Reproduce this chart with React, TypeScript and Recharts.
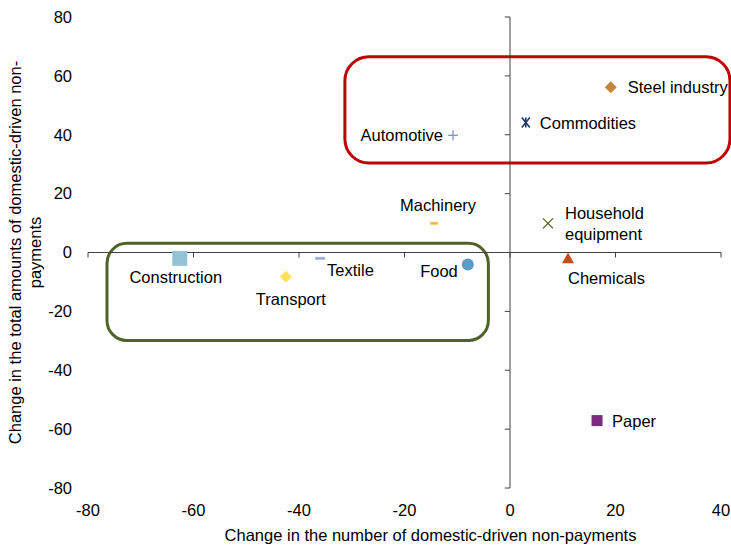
import {
  ScatterChart,
  Scatter,
  XAxis,
  YAxis,
  ReferenceLine,
  ReferenceArea,
  Label,
} from 'recharts'

const sectors = [
  'Steel industry',
  'Commodities',
  'Automotive',
  'Machinery',
  'Household equipment',
  'Chemicals',
  'Paper',
  'Construction',
  'Transport',
  'Textile',
  'Food',
]
// change in the number of domestic-driven non-payments
const numberChange = [19.1, 3.0, -10.8, -14.4, 7.2, 11.0, 16.5, -62.6, -42.5, -36.0, -8.0]
// change in the total amounts of domestic-driven non-payments
const amountChange = [56.1, 44.2, 39.8, 9.9, 9.9, -2.0, -57.1, -2.0, -8.2, -2.0, -4.1]

const xTicks = [-80, -60, -40, -20, 0, 20, 40]
const yTicks = [-80, -60, -40, -20, 0, 20, 40, 60, 80]

// highlighted groups (data coords of the rounded boxes)
const upperBox = { x1: -31.3, x2: 41.7, y1: 30.4, y2: 66.5 }
const lowerBox = { x1: -76.4, x2: -4.1, y1: -29.9, y2: 3.1 }

const FONT = '"Liberation Sans", Arial, sans-serif'
const AXIS = '#404040'

type Marker = 'diamond' | 'asterisk' | 'plus' | 'dash' | 'cross' | 'triangle' | 'square' | 'circle'
interface PointStyle {
  color: string
  marker: Marker
  size: number
  dx: number
  dy: number
  anchor: 'start' | 'middle' | 'end'
  wrap?: boolean
}

const STYLES: Record<string, PointStyle> = {
  'Steel industry': { color: '#C0873F', marker: 'diamond', size: 6, dx: 17, dy: 0, anchor: 'start' },
  Commodities: { color: '#1F3864', marker: 'asterisk', size: 5, dx: 14, dy: 1, anchor: 'start' },
  Automotive: { color: '#8497B0', marker: 'plus', size: 5, dx: -10, dy: 0, anchor: 'end' },
  Machinery: { color: '#F4B531', marker: 'dash', size: 4, dx: 4, dy: -18, anchor: 'middle' },
  'Household equipment': { color: '#4F6228', marker: 'cross', size: 5, dx: 17, dy: 0, anchor: 'start', wrap: true },
  Chemicals: { color: '#C0501E', marker: 'triangle', size: 6, dx: 0, dy: 20, anchor: 'start' },
  Paper: { color: '#7B2C80', marker: 'square', size: 5.5, dx: 15, dy: 0, anchor: 'start' },
  Construction: { color: '#92C4D6', marker: 'square', size: 7.5, dx: -4, dy: 19, anchor: 'middle' },
  Transport: { color: '#FFE158', marker: 'diamond', size: 6, dx: 5, dy: 22, anchor: 'middle' },
  Textile: { color: '#8EA7DA', marker: 'dash', size: 5, dx: 7, dy: 12, anchor: 'start' },
  Food: { color: '#5B9BC8', marker: 'circle', size: 6, dx: -10, dy: 6, anchor: 'end' },
}

function drawMarker(m: Marker, cx: number, cy: number, s: number, c: string) {
  switch (m) {
    case 'diamond':
      return <polygon points={`${cx},${cy - s} ${cx + s},${cy} ${cx},${cy + s} ${cx - s},${cy}`} fill={c} />
    case 'asterisk':
      return (
        <g stroke={c} strokeWidth={1.6}>
          <line x1={cx - s * 0.8} y1={cy - s} x2={cx + s * 0.8} y2={cy + s} />
          <line x1={cx + s * 0.8} y1={cy - s} x2={cx - s * 0.8} y2={cy + s} />
          <line x1={cx} y1={cy - s} x2={cx} y2={cy + s} />
        </g>
      )
    case 'plus':
      return (
        <g stroke={c} strokeWidth={1.3}>
          <line x1={cx - s} y1={cy} x2={cx + s} y2={cy} />
          <line x1={cx} y1={cy - s} x2={cx} y2={cy + s} />
        </g>
      )
    case 'cross':
      return (
        <g stroke={c} strokeWidth={1.3}>
          <line x1={cx - s} y1={cy - s} x2={cx + s} y2={cy + s} />
          <line x1={cx + s} y1={cy - s} x2={cx - s} y2={cy + s} />
        </g>
      )
    case 'dash':
      return <rect x={cx - s} y={cy - 1.5} width={s * 2} height={3} fill={c} stroke="#fff" strokeOpacity={0.4} strokeWidth={1} />
    case 'triangle':
      return <polygon points={`${cx},${cy - s} ${cx + s},${cy + s * 0.8} ${cx - s},${cy + s * 0.8}`} fill={c} />
    case 'square':
      return <rect x={cx - s} y={cy - s} width={s * 2} height={s * 2} fill={c} />
    default:
      return <circle cx={cx} cy={cy} r={s} fill={c} />
  }
}

function renderPoint(props: any) {
  const { cx, cy, payload } = props
  const st = STYLES[payload.name]
  const lines: string[] = st.wrap ? payload.name.split(' ') : [payload.name]
  const lh = 21
  const top = cy + st.dy - ((lines.length - 1) * lh) / 2
  return (
    <g>
      {drawMarker(st.marker, cx, cy, st.size, st.color)}
      {lines.map((t, i) => (
        <text
          key={t}
          x={cx + st.dx}
          y={top + i * lh}
          textAnchor={st.anchor}
          dominantBaseline="central"
          fontSize={16.5}
          fontFamily={FONT}
          fill="#000"
        >
          {t}
        </text>
      ))}
    </g>
  )
}

function roundedBox(color: string, r: number) {
  return (p: any) => {
    const x = Math.min(p.x, p.x + p.width)
    const y = Math.min(p.y, p.y + p.height)
    return (
      <rect
        x={x}
        y={y}
        width={Math.abs(p.width)}
        height={Math.abs(p.height)}
        rx={r}
        ry={r}
        fill="none"
        stroke={color}
        strokeWidth={3}
      />
    )
  }
}

function YTitle(props: any) {
  const vb = props.viewBox
  const cy = vb.y + vb.height / 2
  return (
    <text
      transform={`rotate(-90, 0, ${cy})`}
      x={0}
      y={cy}
      textAnchor="middle"
      fontSize={16.5}
      fontFamily={FONT}
      fill="#000"
    >
      <tspan x={0} dy={21}>Change in the total amounts of domestic-driven non-</tspan>
      <tspan x={0} dy={20}>payments</tspan>
    </text>
  )
}

const points = sectors.map((name, i) => ({ name, x: numberChange[i], y: amountChange[i] }))

export default function App() {
  const tickStyle = { fill: '#000', fontSize: 16.5, fontFamily: FONT }
  return (
    <div style={{ position: 'absolute', left: 0, top: 0, background: '#fff' }}>
      <ScatterChart width={731} height={550} margin={{ top: 17, right: 10, bottom: 0, left: 0 }}>
        <XAxis
          type="number"
          dataKey="x"
          domain={[-80, 40]}
          ticks={xTicks}
          axisLine={false}
          tickLine={false}
          tick={tickStyle}
          tickMargin={10}
          height={62}
          interval={0}
        >
          <Label
            value="Change in the number of domestic-driven non-payments"
            position="insideBottom"
            offset={9}
            dx={26}
            style={{ fill: '#000', fontSize: 16.5, fontFamily: FONT }}
          />
        </XAxis>
        <YAxis
          type="number"
          dataKey="y"
          domain={[-80, 80]}
          ticks={yTicks}
          axisLine={false}
          tickLine={false}
          tick={tickStyle}
          tickMargin={10}
          width={88}
          interval={0}
          label={{ content: YTitle }}
        />
        <ReferenceLine x={0} stroke={AXIS} strokeWidth={1} />
        <ReferenceLine y={0} stroke={AXIS} strokeWidth={1} />
        {yTicks.map((t) => (
          <ReferenceLine key={'yt' + t} segment={[{ x: -1, y: t }, { x: 0, y: t }]} stroke={AXIS} />
        ))}
        {xTicks.map((t) => (
          <ReferenceLine key={'xt' + t} segment={[{ x: t, y: 0 }, { x: t, y: -1.7 }]} stroke={AXIS} />
        ))}
        <ReferenceArea {...upperBox} ifOverflow="visible" shape={roundedBox('#C00000', 24)} />
        <ReferenceArea {...lowerBox} ifOverflow="visible" shape={roundedBox('#4F6228', 20)} />
        {points.map((p) => (
          <Scatter key={p.name} data={[p]} shape={renderPoint} isAnimationActive={false} />
        ))}
      </ScatterChart>
    </div>
  )
}
